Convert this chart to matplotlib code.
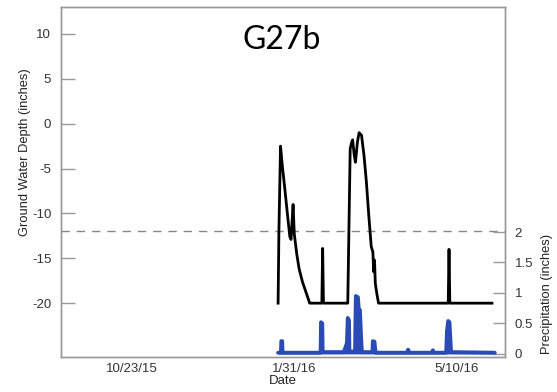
import matplotlib
matplotlib.use("Agg")
import matplotlib.pyplot as plt
import pandas as pd

plt.rcParams['font.family'] = ['Liberation Sans', 'DejaVu Sans']
plt.rcParams['axes.unicode_minus'] = False

# ground water depth (inches)
gw_dates = ["2016-01-21 00:00", "2016-01-21 12:00", "2016-01-22 12:00", "2016-01-23 12:00",
            "2016-01-25 00:00", "2016-01-27 00:00", "2016-01-28 06:00", "2016-01-29 00:00",
            "2016-01-29 18:00", "2016-01-30 06:00", "2016-01-31 00:00", "2016-02-01 12:00",
            "2016-02-03 00:00", "2016-02-05 00:00", "2016-02-06 12:00", "2016-02-08 00:00",
            "2016-02-09 12:00", "2016-02-17 00:00", "2016-02-17 12:00", "2016-02-18 00:00",
            "2016-03-04 00:00", "2016-03-05 12:00", "2016-03-06 12:00", "2016-03-07 00:00",
            "2016-03-08 00:00", "2016-03-08 18:00", "2016-03-10 00:00", "2016-03-11 00:00",
            "2016-03-12 12:00", "2016-03-14 00:00", "2016-03-15 12:00", "2016-03-17 00:00",
            "2016-03-18 12:00", "2016-03-19 12:00", "2016-03-20 00:00", "2016-03-20 12:00",
            "2016-03-21 00:00", "2016-03-22 00:00", "2016-03-23 00:00", "2016-05-05 00:00",
            "2016-05-05 12:00", "2016-05-06 00:00", "2016-06-01 00:00"]
gw_depth = [-20.0, -12.0, -2.5, -4.5,
            -7.0, -10.5, -12.6, -12.9,
            -10.5, -9.0, -12.3, -14.5,
            -16.2, -17.6, -18.4, -19.2,
            -20.0, -20.0, -13.9, -20.0,
            -20.0, -2.8, -2.0, -1.8,
            -3.5, -4.3, -2.0, -1.0,
            -1.3, -3.5, -6.5, -10.3,
            -13.7, -14.3, -16.5, -15.2,
            -17.8, -19.0, -20.0, -20.0,
            -14.0, -20.0, -20.0]

# precipitation (inches)
pr_dates = ["2016-01-21 00:00", "2016-01-22 18:00", "2016-01-23 00:00", "2016-01-23 12:00",
            "2016-01-23 18:00", "2016-02-16 06:00", "2016-02-16 12:00", "2016-02-17 06:00",
            "2016-02-17 12:00", "2016-03-01 12:00", "2016-03-02 12:00", "2016-03-03 12:00",
            "2016-03-04 00:00", "2016-03-04 18:00", "2016-03-05 00:00", "2016-03-08 12:00",
            "2016-03-09 00:00", "2016-03-10 06:00", "2016-03-10 18:00", "2016-03-11 12:00",
            "2016-03-12 06:00", "2016-03-12 18:00", "2016-03-19 06:00", "2016-03-19 12:00",
            "2016-03-20 12:00", "2016-03-20 18:00", "2016-03-21 06:00", "2016-04-09 12:00",
            "2016-04-10 06:00", "2016-04-11 00:00", "2016-04-25 00:00", "2016-04-25 12:00",
            "2016-04-26 06:00", "2016-05-03 18:00", "2016-05-04 06:00", "2016-05-05 00:00",
            "2016-05-05 18:00", "2016-05-06 06:00", "2016-05-06 18:00", "2016-06-02 18:00"]
precip = [0.02, 0.02, 0.21, 0.21,
          0.02, 0.02, 0.52, 0.50,
          0.03, 0.03, 0.10, 0.18,
          0.59, 0.55, 0.04, 0.04,
          0.95, 0.93, 0.74, 0.72,
          0.25, 0.03, 0.03, 0.21,
          0.20, 0.12, 0.02, 0.02,
          0.07, 0.02, 0.02, 0.06,
          0.02, 0.02, 0.38, 0.54,
          0.52, 0.28, 0.03, 0.02]

x_ticks = ["2015-10-23", "2016-01-31", "2016-05-10"]
threshold = -12

gw_t = pd.to_datetime(gw_dates)
pr_t = pd.to_datetime(pr_dates)

fig = plt.figure(figsize=(5.57, 3.92), dpi=100)
ax = fig.add_axes([0.1095, 0.0893, 0.797, 0.8927])
ax2 = ax.twinx()

ax.plot(gw_t, gw_depth, color='black', lw=2.0, zorder=3)
ax.axhline(threshold, color='#888888', lw=1.0, ls=(0, (6, 5)), zorder=1)

blue = '#2a4bb5'
ax2.fill_between(pr_t, 0, precip, color=blue, lw=0)
ax2.plot(pr_t, precip, color=blue, lw=2.8, solid_joinstyle='round', solid_capstyle='round')

ax.set_xlim(pd.Timestamp("2015-09-09"), pd.Timestamp("2016-06-09"))
ax.set_ylim(-26, 13)
ax2.set_ylim(-0.05, 5.69)

ax.set_yticks([10, 5, 0, -5, -10, -15, -20])
ax2.set_yticks([0, 0.5, 1, 1.5, 2])
ax2.set_yticklabels(['0', '0.5', '1', '1.5', '2'])
ax.set_xticks(pd.to_datetime(x_ticks))
ax.set_xticklabels([f"{d.month}/{d.day}/{d.strftime('%y')}" for d in pd.to_datetime(x_ticks)])

for a in (ax, ax2):
    for s in a.spines.values():
        s.set_color('#999999')
        s.set_linewidth(1.0)

ax.tick_params(axis='y', direction='in', length=10, width=1, color='#999999',
               labelsize=9.5, labelcolor='#333333', pad=7)
ax.tick_params(axis='x', length=0, labelsize=9.5, labelcolor='#333333', pad=4)
ax2.tick_params(axis='y', direction='in', length=9, width=1, color='#999999',
                labelsize=9.5, labelcolor='#333333', pad=7)

ax.set_xlabel('Date', fontsize=9.5, color='#222222', labelpad=0.5)
ax.set_ylabel('Ground Water Depth (inches)', fontsize=9.3, color='#222222')
ax.yaxis.set_label_coords(-0.068, 0.585)
ax2.set_ylabel('Precipitation (inches)', fontsize=9.3, color='#222222')
ax2.yaxis.set_label_coords(1.082, 0.18)

fig.text(0.506, 0.898, 'G27b', fontsize=23, family=['Lato', 'DejaVu Sans'],
         ha='center', va='center', color='black')

fig.savefig('out.png', dpi=100, facecolor='white')
